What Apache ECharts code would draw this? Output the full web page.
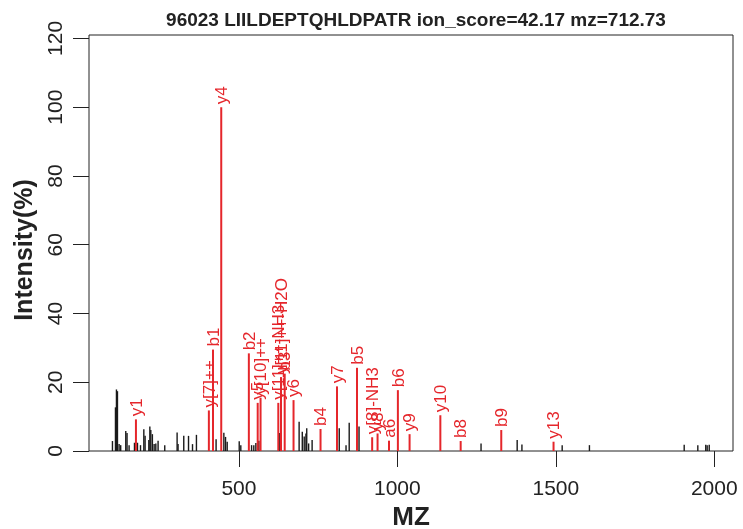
<!DOCTYPE html>
<html><head><meta charset="utf-8">
<script src="https://cdn.jsdelivr.net/npm/echarts@6/dist/echarts.min.js"></script>
<style>html,body{margin:0;padding:0;background:#fff}#c{width:743px;height:529px}</style>
</head><body><div id="c"></div>
<script>
const titleText = '96023 LIILDEPTQHLDPATR ion_score=42.17 mz=712.73';
const xTicks = [500, 1000, 1500, 2000];
const yTicks = [0, 20, 40, 60, 80, 100, 120];

// unmatched (black) peaks
const blackMz  = [101,110.5,113.6,116.8,122,127,143,147,153.5,170.5,180,189.5,200,204,215.7,219,222,227,232.5,237.8,245,266,305,308,326,341,353.6,366,428,452.5,457.8,463,501,506,540,547,553.5,563,629,690,700,706,711.5,714,720,731,816.6,838,848,879,1264,1378,1393,1520,1606,1905,1948,1973,1977.5,1984];
const blackInt = [2.9,12.7,17.9,17.4,2.0,1.7,5.8,5.2,1.7,2.4,2.4,1.7,6.3,4.4,3.2,7.1,6.1,4.9,2.0,2.2,3.0,1.7,5.4,2.0,4.4,4.4,2.0,4.7,3.4,5.3,4.1,2.7,2.8,1.7,1.7,1.7,2.3,3.0,5.2,8.5,5.6,4.2,5.1,6.6,2.2,3.2,6.6,1.7,8.2,7.1,2.2,3.2,1.9,1.7,1.7,1.8,1.7,1.8,1.7,1.8];

// matched (red) fragment ions
const ionMz     = [175.12,405.22,418.30,444.26,531.38,559.29,568.30,624.30,632.82,644.47,672.37,757.55,809.43,872.58,920.46,937.49,973.63,1001.62,1038.54,1135.59,1199.72,1327.78,1492.75];
const ionInt    = [9.2,11.8,29.5,100,28.4,14.0,15.5,14.0,21.5,22.5,14.8,6.4,18.8,24.2,4.0,5.1,3.0,17.7,4.9,10.4,2.9,6.1,2.7];
const ionLabels = ['y1','y[7]++','b1','y4','b2','y5','y[10]++','y[11]++-NH3','y[11]++-H2O','b3','y6','b4','y7','b5','y[8]-NH3','y8','a6','b6','y9','y10','b8','b9','y13'];

const RED = '#e5262b';
const BLK = '#1a1a1a';
const FONT = '"Liberation Sans", Arial, Helvetica, sans-serif';

function peakRenderer(color, width, labels) {
  return function (params, api) {
    const x = api.value(0), y = api.value(1);
    const p0 = api.coord([x, 0]);
    const p1 = api.coord([x, y]);
    const children = [{
      type: 'line',
      shape: {x1: p0[0], y1: p0[1], x2: p1[0], y2: p1[1]},
      style: {stroke: color, lineWidth: width}
    }];
    if (labels) {
      children.push({
        type: 'text',
        x: p1[0] + 1, y: p1[1] - 3,
        rotation: Math.PI / 2,
        style: {text: labels[params.dataIndex], fill: color, font: '17px ' + FONT, align: 'left', verticalAlign: 'middle'}
      });
    }
    return {type: 'group', children: children};
  };
}

const chart = echarts.init(document.getElementById('c'), null, {renderer: 'canvas'});
chart.setOption({
  animation: false,
  backgroundColor: '#fff',
  title: {
    text: titleText, left: 411, top: 6, textAlign: 'center',
    textStyle: {fontFamily: FONT, fontWeight: 'bold', fontSize: 19, color: '#222'}
  },
  grid: {left: 89, right: 10, top: 35, bottom: 78, show: true, borderColor: '#222', borderWidth: 1, containLabel: false, outerBoundsMode: 'none'},
  xAxis: {
    type: 'value', min: 27, max: 2059,
    name: 'MZ', nameLocation: 'middle', nameGap: 51,
    nameTextStyle: {fontFamily: FONT, fontWeight: 'bold', fontSize: 26, color: '#222'},
    axisLine: {show: false},
    axisTick: {show: true, length: 16, customValues: xTicks, lineStyle: {color: '#222', width: 1}},
    axisLabel: {customValues: xTicks, margin: 28, fontFamily: FONT, fontSize: 21, color: '#222', formatter: v => String(v)},
    splitLine: {show: false}
  },
  yAxis: {
    type: 'value', min: 0, max: 121,
    name: 'Intensity(%)', nameLocation: 'middle', nameGap: 46,
    nameTextStyle: {fontFamily: FONT, fontWeight: 'bold', fontSize: 25, color: '#222', padding: [0, 14, 0, 0]},
    axisLine: {show: false},
    axisTick: {show: true, length: 16, customValues: yTicks, lineStyle: {color: '#222', width: 1}},
    axisLabel: {customValues: yTicks, rotate: 90, margin: 22, fontFamily: FONT, fontSize: 21, color: '#222', formatter: v => String(v)},
    splitLine: {show: false}
  },
  series: [
    {type: 'custom', data: blackMz.map((m, i) => [m, blackInt[i]]), renderItem: peakRenderer(BLK, 1.4, null), clip: true, z: 2},
    {type: 'custom', data: ionMz.map((m, i) => [m, ionInt[i]]), renderItem: peakRenderer(RED, 2, ionLabels), clip: false, z: 3}
  ]
});
</script></body></html>
